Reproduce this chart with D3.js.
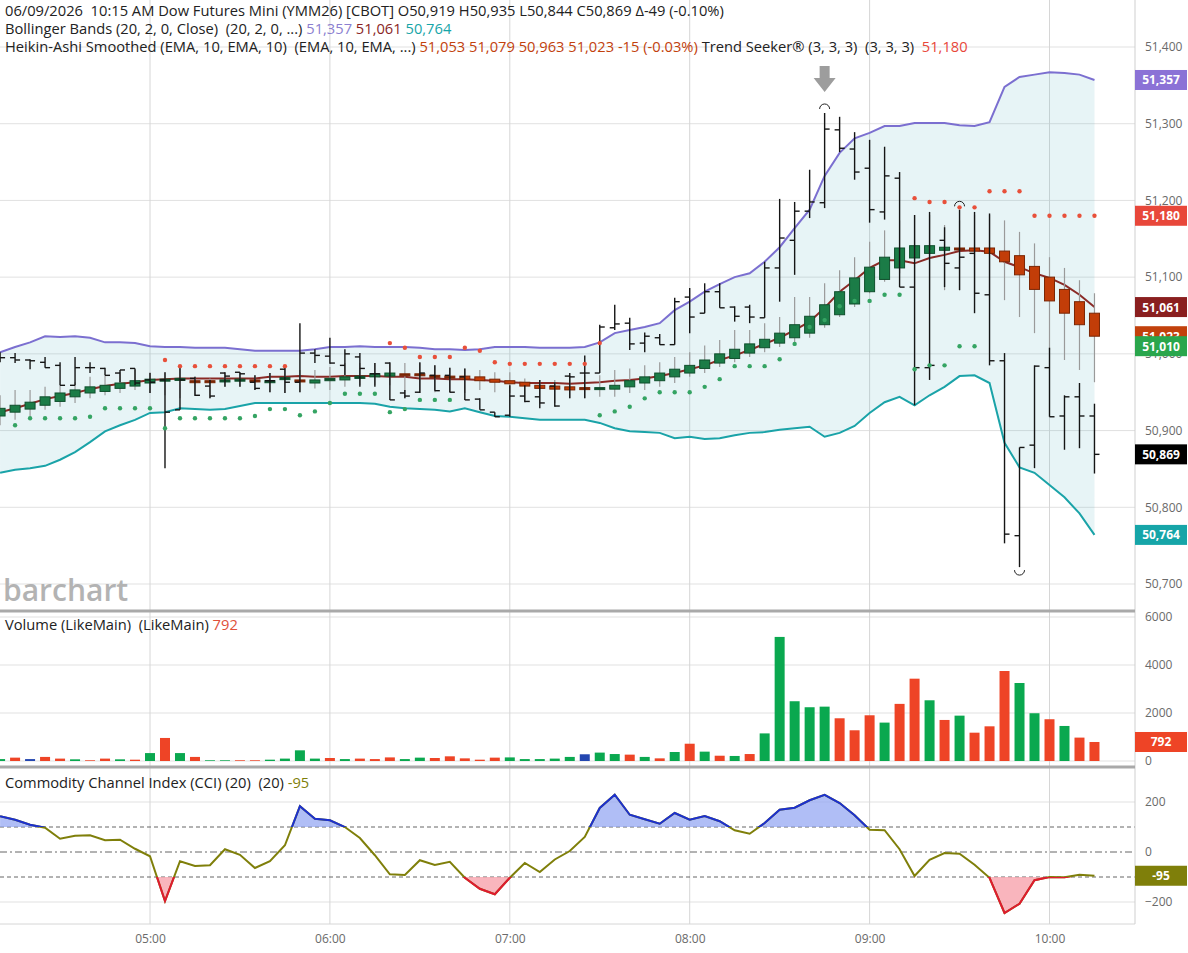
<!DOCTYPE html>
<html lang="en">
<head>
<meta charset="UTF-8">
<title>Dow Futures Mini (YMM26)</title>
<script src="https://cdn.jsdelivr.net/npm/d3@7"></script>
<style>
  body { margin: 0; background: #fff; }
  svg { display: block; font-family: "Open Sans", "Noto Sans", sans-serif; }
  text { white-space: pre; }
</style>
</head>
<body>
<svg id="chart" width="1188" height="953"></svg>
<script>
// 5 minute bars, 04:10 .. 10:15
var times = ["04:10","04:15","04:20","04:25","04:30","04:35","04:40","04:45","04:50","04:55",
  "05:00","05:05","05:10","05:15","05:20","05:25","05:30","05:35","05:40","05:45","05:50","05:55",
  "06:00","06:05","06:10","06:15","06:20","06:25","06:30","06:35","06:40","06:45","06:50","06:55",
  "07:00","07:05","07:10","07:15","07:20","07:25","07:30","07:35","07:40","07:45","07:50","07:55",
  "08:00","08:05","08:10","08:15","08:20","08:25","08:30","08:35","08:40","08:45","08:50","08:55",
  "09:00","09:05","09:10","09:15","09:20","09:25","09:30","09:35","09:40","09:45","09:50","09:55",
  "10:00","10:05","10:10","10:15"];

// price bars (OHLC)
var barOpen = [50995,50995,50992,50989,50985,50959,50982,50981,50975,50981,
  50966,50966,50927,50968,50958,50975,50976,50963,50965,50980,
  50963,51001,50997,50985,50996,50974,50988,50949,50950,50972,
  50972,50970,50941,50924,50920,50945,50944,50958,50971,50975,
  50975,51034,51040,51014,51021,51012,51074,51053,51081,51061,
  51061,51047,51112,51148,51186,51197,51292,51267,51242,51185,
  51229,51087,50982,51148,51112,51131,51077,50991,50763,50881,
  50982,50919,50944,50919];
var barHigh = [51002,51001,50993,50996,50989,50996,50989,50982,50979,50981,
  50975,50976,50982,50970,50966,50976,50976,50972,50975,50982,
  51040,51006,51021,51006,51001,50988,50989,50953,50989,50985,
  50982,50981,50942,50924,50959,50959,50966,50963,50975,50998,
  51038,51064,51047,51028,51026,51073,51086,51092,51092,51062,
  51064,51120,51202,51198,51240,51314,51309,51289,51279,51270,
  51237,51181,51185,51165,51188,51185,51183,51001,50878,50985,
  51008,50946,50962,50935];
var barLow = [50989,50988,50980,50982,50959,50959,50975,50972,50963,50959,
  50949,50851,50927,50945,50942,50957,50957,50953,50950,50949,
  50950,50988,50987,50972,50957,50957,50940,50942,50949,50952,
  50950,50940,50927,50918,50918,50937,50929,50931,50942,50942,
  50975,51031,51005,51002,51012,51012,51027,51053,51060,51042,
  51040,51047,51068,51103,51177,51190,51263,51227,51171,51175,
  51087,50933,50966,51087,51083,51053,50985,50753,50722,50851,
  50918,50875,50877,50844];
var barClose = [50995,50992,50991,50982,50959,50982,50982,50972,50979,50962,
  50963,50924,50966,50946,50945,50971,50974,50955,50965,50963,
  51001,50998,50988,51000,50981,50974,50940,50945,50975,50952,
  50950,50940,50927,50918,50945,50938,50936,50932,50970,50975,
  51035,51039,51013,51023,51012,51068,51048,51081,51060,51049,
  51048,51112,51151,51186,51198,51293,51268,51237,51188,51232,
  51087,50982,50985,51118,51126,51079,50991,50765,50878,50984,
  50918,50944,50919,50869];

// Heikin-Ashi smoothed
var haOpen = [50919,50924,50928,50933,50938,50944,50949,50951,50955,50958,
  50962,50965,50966,50965,50965,50965,50966,50966,50965,50967,
  50966,50962,50965,50966,50968,50970,50971,50974,50974,50972,
  50971,50971,50970,50967,50965,50963,50959,50958,50957,50956,
  50955,50954,50957,50962,50965,50970,50975,50981,50988,50994,
  51001,51008,51014,51021,51027,51038,51051,51065,51081,51097,
  51112,51125,51131,51135,51138,51138,51138,51134,51128,51114,
  51100,51084,51068,51053];
var haHigh = [50946,50953,50953,50957,50959,50963,50970,50972,50976,50979,
  50976,50976,50981,50970,50968,50976,50976,50972,50975,50985,
  50979,50979,50983,50988,50988,50988,50988,50988,50988,50985,
  50982,50981,50979,50976,50976,50968,50966,50966,50972,50972,
  50972,50979,50981,50985,50989,50996,51002,51011,51018,51031,
  51031,51040,51048,51074,51074,51092,51109,51126,51146,51161,
  51174,51181,51181,51168,51174,51181,51181,51174,51159,51144,
  51126,51112,51096,51079];
var haLow = [50907,50914,50918,50927,50931,50936,50942,50946,50949,50953,
  50949,50946,50942,50946,50942,50957,50957,50953,50950,50949,
  50950,50955,50953,50957,50959,50959,50959,50942,50949,50950,
  50949,50949,50953,50950,50949,50940,50937,50936,50942,50942,
  50944,50944,50949,50953,50957,50962,50970,50975,50983,50989,
  50996,51002,51009,51014,51021,51034,51048,51061,51079,51094,
  51105,51083,51083,51083,51083,51077,51070,51070,51048,51027,
  51005,50992,50979,50963];
var haClose = [50929,50933,50937,50944,50949,50953,50957,50959,50962,50965,
  50967,50967,50968,50964,50964,50966,50967,50965,50965,50969,
  50965,50966,50968,50970,50971,50974,50975,50973,50972,50971,
  50970,50967,50965,50963,50961,50958,50955,50954,50953,50955,
  50956,50959,50965,50970,50975,50980,50985,50992,51000,51006,
  51013,51019,51027,51038,51049,51064,51081,51099,51113,51126,
  51138,51141,51141,51139,51137,51134,51131,51120,51103,51084,
  51069,51053,51038,51023];

// Bollinger Bands (20, 2)
var bbUpper = [51002,51009,51015,51023,51022,51023,51021,51015,51015,51014,
  51010,51009,51009,51008,51008,51008,51006,51004,51004,51004,
  51004,51006,51009,51009,51010,51009,51009,51009,51008,51006,
  51006,51005,51006,51009,51009,51009,51008,51008,51008,51009,
  51015,51027,51031,51035,51040,51057,51068,51081,51091,51100,
  51105,51120,51139,51164,51188,51232,51262,51281,51288,51297,
  51297,51301,51301,51301,51298,51297,51302,51348,51361,51364,
  51367,51366,51364,51357];
var bbMid = [50924,50929,50935,50941,50945,50949,50954,50958,50961,50963,
  50966,50967,50968,50968,50968,50968,50968,50968,50970,50970,
  50971,50970,50970,50971,50971,50971,50970,50970,50968,50968,
  50967,50967,50966,50965,50963,50962,50962,50962,50961,50962,
  50963,50965,50966,50968,50971,50975,50980,50985,50992,50998,
  51005,51013,51021,51031,51042,51060,51081,51096,51112,51122,
  51122,51118,51125,51129,51134,51135,51133,51120,51113,51105,
  51099,51090,51077,51061];
var bbLower = [50845,50849,50851,50854,50862,50872,50885,50899,50907,50914,
  50923,50924,50929,50928,50927,50928,50932,50936,50936,50936,
  50936,50936,50936,50936,50936,50935,50931,50929,50928,50927,
  50925,50929,50924,50919,50918,50916,50914,50914,50914,50914,
  50910,50903,50899,50898,50897,50890,50892,50889,50890,50894,
  50897,50898,50901,50903,50905,50892,50897,50906,50923,50937,
  50944,50933,50946,50957,50971,50972,50962,50884,50852,50845,
  50829,50813,50792,50764];

// Trend Seeker dots
var seekerUp = [null,50907,50916,50916,50916,50916,50918,50929,50929,50929,
  50929,50903,50916,50916,50916,50916,50916,50919,50928,50928,
  50920,50925,50936,50948,50948,50948,50924,50928,50940,50940,
  50940,null,null,null,null,null,null,null,null,null,
  50920,50925,50931,50942,50950,50950,50950,50957,50967,50984,
  50984,50984,50993,51013,51035,51044,51062,51069,51069,51077,
  51077,50980,50985,50985,51010,51010,null,null,null,null,
  null,null,null,null];
var seekerDown = [null,null,null,null,null,null,null,null,null,null,
  null,50992,50984,50984,50984,50984,50984,50984,50984,50984,
  null,null,null,null,null,null,51014,51008,50996,50996,
  50996,51008,51004,50989,50987,50987,50987,50987,50987,50987,
  51014,null,null,null,null,null,null,null,null,null,
  null,null,null,null,null,null,null,null,null,null,
  null,51203,51198,51198,51191,51191,51212,51212,51212,51180,
  51180,51180,51180,51180];

// volume, with bar colour direction: u = up, d = down, n = unchanged
var volume = [80,140,80,170,100,70,30,100,70,55,
  330,960,330,170,30,30,30,30,55,100,
  445,100,125,80,100,80,150,80,140,125,
  195,110,55,140,150,80,80,100,170,280,
  350,290,265,170,110,375,720,390,220,210,
  290,1150,5170,2490,2240,2265,1780,1280,1905,1600,
  2380,3430,2530,1710,1890,1180,1445,3750,3250,1990,
  1740,1460,975,792];
var volumeDir = ["u","d","n","d","d","u","d","d","u","d",
  "u","d","u","d","u","u","d","d","u","u",
  "u","u","d","u","d","d","d","u","u","d",
  "d","d","d","d","u","u","u","u","u","n",
  "u","u","d","u","d","u","d","u","d","u",
  "d","u","u","u","u","u","d","d","d","u",
  "d","d","u","d","u","d","d","d","u","u",
  "d","u","d","d"];

// Commodity Channel Index (20)
var cci = [143,129,109,97,53,65,67,47,49,13,
  -17,-196,-37,-56,-53,11,-11,-64,-37,27,
  183,133,127,100,56,-13,-89,-92,-33,-52,
  -39,-103,-147,-169,-103,-44,-80,-30,4,60,
  176,229,149,131,113,156,129,144,123,87,
  73,116,169,177,207,229,196,147,89,87,
  11,-96,-31,-4,-7,-51,-103,-244,-207,-113,
  -100,-101,-91,-95];

var priceTicks = [50700,50800,50900,51000,51100,51200,51300,51400];
var volumeTicks = [0,2000,4000,6000];
var cciTicks = [-200,0,200];
var timeTicks = ["05:00","06:00","07:00","08:00","09:00","10:00"];

var svg = d3.select("#chart");
var plotRight = 1135;
var parse = d3.timeParse("%H:%M");
var tx = times.map(parse);
var idx = d3.range(times.length);
var fmt = d3.format(",");

var x = d3.scaleTime().domain([parse("05:00"), parse("10:00")]).range([150, 1049.5]);
var y = d3.scaleLinear().domain([50700, 51400]).range([584, 47]);
var yVol = d3.scaleLinear().domain([0, 6000]).range([761, 617]);
var yCci = d3.scaleLinear().domain([-200, 200]).range([902, 802]);

var defs = svg.append("defs");
function clip(id, y0, y1) {
    defs.append("clipPath").attr("id", id).append("rect")
        .attr("x", 0).attr("y", y0).attr("width", plotRight).attr("height", y1 - y0);
}
clip("clipMain", 0, 610);
clip("clipVol", 612, 767);
clip("clipCci", 769, 924);
clip("clipCciUp", 769, yCci(100));
clip("clipCciDown", yCci(-100), 924);

/* grid */
var grid = svg.append("g").attr("stroke", "#e1e1e1").attr("stroke-width", 1);
grid.selectAll("line.hp").data(priceTicks).join("line")
    .attr("x1", 0).attr("x2", plotRight).attr("y1", d => y(d)).attr("y2", d => y(d));
grid.selectAll("line.hv").data(volumeTicks).join("line")
    .attr("x1", 0).attr("x2", plotRight).attr("y1", d => yVol(d)).attr("y2", d => yVol(d));
grid.selectAll("line.hc").data([200, -200]).join("line")
    .attr("x1", 0).attr("x2", plotRight).attr("y1", d => yCci(d)).attr("y2", d => yCci(d));
grid.selectAll("line.vt").data(timeTicks).join("line")
    .attr("x1", d => x(parse(d))).attr("x2", d => x(parse(d)))
    .attr("y1", 0).attr("y2", 924).attr("stroke", "#d6d6d6");

/* main pane */
var main = svg.append("g").attr("clip-path", "url(#clipMain)");

main.append("path").datum(idx)
    .attr("fill", "#5fb8c4").attr("fill-opacity", 0.15)
    .attr("d", d3.area().x(i => x(tx[i])).y0(i => y(bbLower[i])).y1(i => y(bbUpper[i])));

function bandLine(values, color, w) {
    main.append("path").datum(idx)
        .attr("fill", "none").attr("stroke", color).attr("stroke-width", w)
        .attr("d", d3.line().x(i => x(tx[i])).y(i => y(values[i])));
}
bandLine(bbUpper, "#7b6fd0", 2);
bandLine(bbLower, "#1aa3a8", 2);
bandLine(bbMid, "#8a2a26", 2);

// Heikin-Ashi smoothed candles
function haBody(i) { return Math.abs(y(haOpen[i]) - y(haClose[i])); }
function haDark(i) { return haClose[i] >= haOpen[i] ? "#0f4f2c" : "#7a2605"; }
var ha = main.append("g");
ha.selectAll("line").data(idx).join("line")
    .attr("x1", i => x(tx[i])).attr("x2", i => x(tx[i]))
    .attr("y1", i => y(haHigh[i])).attr("y2", i => y(haLow[i]))
    .attr("stroke", "#9a9a9a").attr("stroke-width", 1.2);
ha.selectAll("rect").data(idx).join("rect")
    .attr("x", i => x(tx[i]) - 5).attr("width", 10)
    .attr("y", i => y(Math.max(haOpen[i], haClose[i])))
    .attr("height", i => Math.max(2, haBody(i)))
    .attr("fill", i => haBody(i) < 3 ? haDark(i) : (haClose[i] >= haOpen[i] ? "#1b7c47" : "#c23d08"))
    .attr("stroke", haDark).attr("stroke-width", 1);

// price bars
var bars = main.append("g").attr("stroke", "#151515").attr("stroke-width", 1.4);
bars.selectAll("line.hl").data(idx).join("line")
    .attr("x1", i => x(tx[i])).attr("x2", i => x(tx[i]))
    .attr("y1", i => y(barHigh[i])).attr("y2", i => y(barLow[i]));
bars.selectAll("line.op").data(idx).join("line")
    .attr("x1", i => x(tx[i]) - 5).attr("x2", i => x(tx[i]))
    .attr("y1", i => y(barOpen[i])).attr("y2", i => y(barOpen[i]));
bars.selectAll("line.cl").data(idx).join("line")
    .attr("x1", i => x(tx[i])).attr("x2", i => x(tx[i]) + 5)
    .attr("y1", i => y(barClose[i])).attr("y2", i => y(barClose[i]));

// trend seeker dots
main.selectAll("circle.up").data(idx.filter(i => seekerUp[i] != null)).join("circle")
    .attr("cx", i => x(tx[i])).attr("cy", i => y(seekerUp[i])).attr("r", 2.2).attr("fill", "#35a463");
main.selectAll("circle.dn").data(idx.filter(i => seekerDown[i] != null)).join("circle")
    .attr("cx", i => x(tx[i])).attr("cy", i => y(seekerDown[i])).attr("r", 2.2).attr("fill", "#e8503a");

// high / low markers
var hiX = x(tx[55]), hiY = y(barHigh[55]);
main.append("path")
    .attr("d", "M" + (hiX - 5) + "," + (hiY - 47) + "h10v13h-10z M" + (hiX - 11) + "," + (hiY - 35) + "h22l-11,14z")
    .attr("fill", "#9d9d9d");
function arc(cx, cy, up) {
    main.append("path")
        .attr("d", up ? "M" + (cx - 5) + "," + cy + " a5,5 0 0,1 10,0" : "M" + (cx - 5) + "," + cy + " a5,5 0 0,0 10,0")
        .attr("fill", "none").attr("stroke", "#222").attr("stroke-width", 1);
}
arc(hiX, hiY - 4, true);
arc(x(tx[68]), y(barLow[68]) + 3, false);
arc(x(tx[64]), y(seekerDown[64]) - 1, true);

/* volume pane */
var vol = svg.append("g").attr("clip-path", "url(#clipVol)");
var volColor = { u: "#0aa84f", d: "#ee4426", n: "#2346b0" };
vol.selectAll("rect").data(idx).join("rect")
    .attr("x", i => x(tx[i]) - 5).attr("width", 10)
    .attr("y", i => yVol(volume[i])).attr("height", i => yVol(0) - yVol(volume[i]))
    .attr("fill", i => volColor[volumeDir[i]]);

/* CCI pane */
var cc = svg.append("g").attr("clip-path", "url(#clipCci)");
[[100, "4,3"], [-100, "4,3"], [0, "7,3,2,3"]].forEach(function (l) {
    cc.append("line").attr("x1", 0).attr("x2", plotRight)
        .attr("y1", yCci(l[0])).attr("y2", yCci(l[0]))
        .attr("stroke", "#666").attr("stroke-width", 1).attr("stroke-dasharray", l[1]);
});
var cciLine = d3.line().x(i => x(tx[i])).y(i => yCci(cci[i]));
cc.append("path").datum(idx).attr("clip-path", "url(#clipCciUp)")
    .attr("fill", "#8fa3f2").attr("fill-opacity", 0.7)
    .attr("d", d3.area().x(i => x(tx[i])).y0(yCci(100)).y1(i => yCci(cci[i])));
cc.append("path").datum(idx).attr("clip-path", "url(#clipCciDown)")
    .attr("fill", "#f7a3ad").attr("fill-opacity", 0.8)
    .attr("d", d3.area().x(i => x(tx[i])).y0(yCci(-100)).y1(i => yCci(cci[i])));
cc.append("path").datum(idx).attr("fill", "none").attr("stroke", "#7f7f0a").attr("stroke-width", 2).attr("d", cciLine);
cc.append("path").datum(idx).attr("clip-path", "url(#clipCciUp)")
    .attr("fill", "none").attr("stroke", "#1c30d0").attr("stroke-width", 2).attr("d", cciLine);
cc.append("path").datum(idx).attr("clip-path", "url(#clipCciDown)")
    .attr("fill", "none").attr("stroke", "#e01a30").attr("stroke-width", 2).attr("d", cciLine);

/* frame lines */
svg.append("line").attr("x1", 0).attr("x2", plotRight).attr("y1", 924).attr("y2", 924).attr("stroke", "#d6d6d6");
svg.append("line").attr("x1", plotRight).attr("x2", plotRight).attr("y1", 0).attr("y2", 924).attr("stroke", "#cfcfcf");

/* axes */
function styleAxis(g) {
    g.select(".domain").remove();
    g.selectAll("text").attr("fill", "#6a6a6a").attr("font-size", 12).attr("font-family", "Open Sans, sans-serif");
}
svg.append("g").attr("transform", "translate(" + plotRight + ",0)")
    .call(d3.axisRight(y).tickValues(priceTicks).tickFormat(fmt).tickSize(0).tickPadding(10)).call(styleAxis);
svg.append("g").attr("transform", "translate(" + plotRight + ",0)")
    .call(d3.axisRight(yVol).tickValues(volumeTicks).tickFormat(d3.format("d")).tickSize(0).tickPadding(10)).call(styleAxis);
svg.append("g").attr("transform", "translate(" + plotRight + ",0)")
    .call(d3.axisRight(yCci).tickValues(cciTicks).tickFormat(d3.format("d")).tickSize(0).tickPadding(10)).call(styleAxis);
svg.append("g").attr("transform", "translate(0,924)")
    .call(d3.axisBottom(x).tickValues(timeTicks.map(parse)).tickFormat(d3.timeFormat("%H:%M")).tickSize(0).tickPadding(10)).call(styleAxis);

/* pane separators */
[611, 767].forEach(function (yy) {
    svg.append("line").attr("x1", 0).attr("x2", plotRight).attr("y1", yy).attr("y2", yy)
        .attr("stroke", "#a9a9a9").attr("stroke-width", 3);
});

/* value tags */
function tag(yPos, label, bg) {
    var t = svg.append("g").attr("transform", "translate(" + plotRight + "," + yPos + ")");
    t.append("rect").attr("x", 0).attr("y", -10).attr("width", 52).attr("height", 20).attr("fill", bg);
    t.append("text").attr("x", 26).attr("y", 4.5).attr("text-anchor", "middle")
        .attr("fill", "#fff").attr("font-size", 12).attr("font-weight", 700).text(label);
}
var last = times.length - 1;
var lastUp = seekerUp.filter(v => v != null).pop();
tag(y(bbUpper[last]), fmt(bbUpper[last]), "#8b72d6");
tag(y(seekerDown[last]), fmt(seekerDown[last]), "#e8473a");
tag(y(bbMid[last]), fmt(bbMid[last]), "#8a1f1f");
tag(y(haClose[last]), fmt(haClose[last]), "#c2410c");
tag(y(lastUp), fmt(lastUp), "#2aa64c");
tag(y(barClose[last]), fmt(barClose[last]), "#000");
tag(y(bbLower[last]), fmt(bbLower[last]), "#16a5a8");
tag(yVol(volume[last]), fmt(volume[last]), "#ee4426");
tag(yCci(cci[last]), cci[last], "#7f7f0a");

/* watermark */
svg.append("text").attr("x", 3).attr("y", 601).attr("font-size", 30).attr("font-weight", 600)
    .attr("fill", "#b3b3b3").attr("letter-spacing", 0).text("barchart");

/* legends */
function legend(yPos, parts) {
    var t = svg.append("text").attr("x", 5).attr("y", yPos).attr("font-size", 14.7).attr("fill", "#222");
    parts.forEach(function (p) {
        t.append("tspan").attr("fill", p[1] || "#222").text(p[0]);
    });
}
legend(16, [["06/09/2026  10:15 AM Dow Futures Mini (YMM26) [CBOT] O" + fmt(barOpen[last]) + " H" + fmt(barHigh[last]) +
    " L" + fmt(barLow[last]) + " C" + fmt(barClose[last]) + " \u0394-49 (-0.10%)"]]);
legend(34, [["Bollinger Bands (20, 2, 0, Close)  (20, 2, 0, ...) "], [fmt(bbUpper[last]), "#8b7fd0"], [" "],
    [fmt(bbMid[last]), "#8a1f1f"], [" "], [fmt(bbLower[last]), "#16a5a8"]]);
legend(52, [["Heikin-Ashi Smoothed (EMA, 10, EMA, 10)  (EMA, 10, EMA, ...) "],
    [[haOpen[last], haHigh[last], haLow[last], haClose[last]].map(fmt).join(" ") + " -15 (-0.03%)", "#c2410c"],
    [" Trend Seeker\u00ae (3, 3, 3)  (3, 3, 3)  "], [fmt(seekerDown[last]), "#e8473a"]]);
legend(630, [["Volume (LikeMain)  (LikeMain) "], [String(volume[last]), "#e0503a"]]);
legend(788, [["Commodity Channel Index (CCI) (20)  (20) "], [String(cci[last]), "#7f7f0a"]]);
</script>
</body>
</html>
